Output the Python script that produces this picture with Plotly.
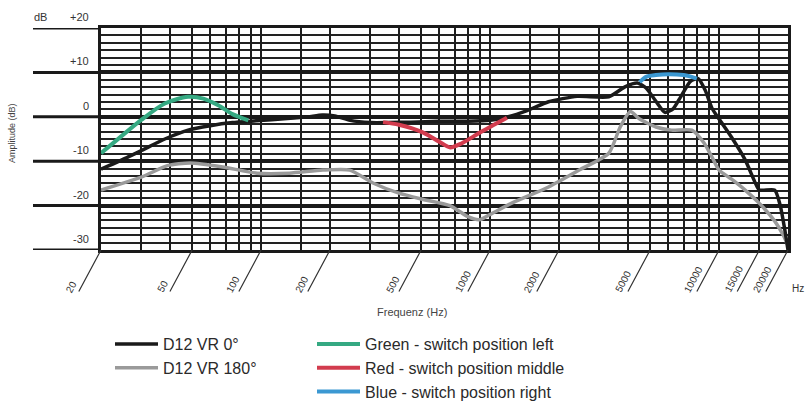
import numpy as np
import plotly.graph_objects as go

# ---------------- data ----------------
f_0deg = [20, 24, 30, 38, 48, 60, 75, 95, 130, 160, 185, 210, 245, 300, 360, 450, 600, 800,
          1000, 1200, 1450, 1800, 2400, 3300, 3900, 4400, 4800, 5300, 5800, 6300, 6800, 7500,
          8100, 8700, 9300, 10000, 11300, 13000, 14400, 15000, 17500, 18500, 19300, 20000]
db_0deg = [-11.8, -10.0, -7.6, -5.0, -3.0, -2.0, -1.3, -0.9, -0.4, 0.0, 0.4, 0.2, -0.8, -1.3, -1.3,
           -1.2, -1.0, -1.0, -0.8, 0.0, 1.4, 3.4, 4.6, 4.5, 6.8, 7.6, 6.5, 3.5, 1.0, 1.8, 4.5, 8.0,
           8.6, 6.0, 2.0, -0.5, -4.5, -9.7, -14.9, -16.5, -16.5, -20.0, -25.0, -30.0]

f_180deg = [20, 30, 39, 49, 68, 96, 133, 186, 244, 308, 400, 500, 668, 800, 900, 1000, 1250,
            1800, 2450, 3300, 3700, 4100, 4500, 5300, 6200, 7600, 8600, 9300, 10000, 11300,
            13000, 15000, 17500, 19000, 20000]
db_180deg = [-16.5, -13.6, -11.0, -10.4, -11.3, -12.7, -12.7, -12.0, -12.0, -14.9, -17.2, -18.5,
             -20.0, -22.5, -23.2, -22.0, -19.4, -15.8, -12.0, -8.2, -2.3, 1.2, -0.5, -2.3, -3.0,
             -3.0, -5.9, -9.0, -12.0, -14.0, -16.5, -19.5, -23.5, -26.5, -29.0]

f_green = [20, 24, 30, 38, 48, 56, 65, 75, 88]
db_green = [-8.2, -4.8, -0.7, 3.0, 4.5, 4.1, 2.6, 0.6, -0.8]

f_red = [341, 400, 508, 600, 670, 750, 900, 1050, 1185]
db_red = [-1.2, -1.8, -3.5, -5.6, -6.9, -6.0, -3.6, -1.7, -0.2]

f_blue = [4500, 4800, 5300, 6000, 7000, 7600, 8000]
db_blue = [7.8, 9.0, 9.4, 9.6, 9.4, 9.0, 8.6]

x_labels = [20, 50, 100, 200, 500, 1000, 2000, 5000, 10000, 15000, 20000]
x_grid = ([20, 30, 40, 50, 60, 70, 80, 90, 100, 150, 200, 300, 400, 500, 600, 700, 800, 900,
           1000, 1500, 2000, 3000, 4000, 5000, 6000, 7000, 8000, 9000, 10000, 15000, 20000])
y_major = [-30, -20, -10, 0, 10, 20]
y_labels = ["-30", "-20", "-10", "0", "+10", "+20"]

# ---------------- figure ----------------
FONT = "Arial, Liberation Sans, sans-serif"
W, H = 806, 407
ML, MR, MT, MB = 101, 18, 28, 157
PW = W - ML - MR
PH = H - MT - MB

fig = go.Figure()
fig.add_trace(go.Scatter(x=f_180deg, y=db_180deg, mode="lines", name="D12 VR 180°",
                         line=dict(color="#9a9a9a", width=3.5, shape="spline", smoothing=0.6),
                         legend="legend"))
fig.add_trace(go.Scatter(x=f_0deg, y=db_0deg, mode="lines", name="D12 VR 0°",
                         line=dict(color="#1a1a1a", width=3.5, shape="spline", smoothing=0.6),
                         legend="legend", legendrank=1))
fig.add_trace(go.Scatter(x=f_green, y=db_green, mode="lines", name="Green - switch position left",
                         line=dict(color="#35a982", width=4, shape="spline", smoothing=0.8),
                         legend="legend2"))
fig.add_trace(go.Scatter(x=f_red, y=db_red, mode="lines", name="Red - switch position middle",
                         line=dict(color="#d23c4e", width=4, shape="spline", smoothing=0.8),
                         legend="legend2"))
fig.add_trace(go.Scatter(x=f_blue, y=db_blue, mode="lines", name="Blue - switch position right",
                         line=dict(color="#3b98d2", width=4, shape="spline", smoothing=0.8),
                         legend="legend2"))

shapes = []
annotations = []
px2paper_x = lambda px: (px - ML) / PW
px2paper_y = lambda py: (H - MB - py) / PH

# extended thick horizontal lines to the left of the plot
for v in y_major:
    shapes.append(dict(type="line", xref="paper", yref="y", x0=px2paper_x(33), x1=0,
                       y0=v, y1=v, line=dict(color="#1a1a1a", width=3)))
# y labels
for v, t in zip(y_major, y_labels):
    annotations.append(dict(text=t, xref="paper", yref="y", x=px2paper_x(91), y=v,
                            xanchor="right", yanchor="middle", yshift=11, showarrow=False,
                            font=dict(family=FONT, size=11, color="#333")))
annotations.append(dict(text="dB", xref="paper", yref="y", x=px2paper_x(32), y=20,
                        xanchor="left", yanchor="middle", yshift=11, showarrow=False,
                        font=dict(family=FONT, size=11, color="#333")))
# x tick labels with slanted leaders
for fv in x_labels:
    annotations.append(dict(text="", xref="x", yref="y", x=np.log10(fv), y=-30,
                            showarrow=True, arrowhead=0, arrowwidth=1.2, arrowcolor="#333",
                            ax=-23, ay=43, standoff=0, startstandoff=0))
    annotations.append(dict(text=f"{fv}", xref="x", yref="y", x=np.log10(fv), y=-30,
                            xanchor="left", yanchor="bottom", xshift=-40, yshift=-47,
                            textangle=-62, showarrow=False,
                            font=dict(family=FONT, size=10, color="#333")))
annotations.append(dict(text="Hz", xref="paper", yref="paper", x=px2paper_x(790), y=px2paper_y(288),
                        xanchor="left", yanchor="middle", showarrow=False,
                        font=dict(family=FONT, size=10, color="#333")))
annotations.append(dict(text="Frequenz (Hz)", xref="paper", yref="paper", x=px2paper_x(412),
                        y=px2paper_y(312), xanchor="center", yanchor="middle", showarrow=False,
                        font=dict(family=FONT, size=11, color="#444")))
annotations.append(dict(text="Amplitude (dB)", xref="paper", yref="paper", x=px2paper_x(12),
                        y=px2paper_y(133), xanchor="center", yanchor="middle", textangle=-90,
                        showarrow=False, font=dict(family=FONT, size=9, color="#444")))

fig.update_layout(
    width=W, height=H, margin=dict(l=ML, r=MR, t=MT, b=MB, autoexpand=False),
    paper_bgcolor="white", plot_bgcolor="white",
    showlegend=True,
    legend=dict(x=px2paper_x(110), y=px2paper_y(327), xanchor="left", yanchor="top",
                font=dict(family=FONT, size=16, color="#2a2a2a"), bgcolor="rgba(0,0,0,0)",
                tracegroupgap=0, itemwidth=43),
    legend2=dict(x=px2paper_x(312), y=px2paper_y(327), xanchor="left", yanchor="top",
                 font=dict(family=FONT, size=16, color="#2a2a2a"), bgcolor="rgba(0,0,0,0)",
                 tracegroupgap=0, itemwidth=43),
    shapes=shapes, annotations=annotations,
)
fig.update_xaxes(type="log", range=[np.log10(20), np.log10(20000)], tickmode="array",
                 tickvals=x_grid, showticklabels=False, ticks="", showgrid=True,
                 gridcolor="#1e1e1e", gridwidth=2, showline=True, linecolor="#1a1a1a",
                 linewidth=3, mirror=True, zeroline=False, fixedrange=True)
fig.update_yaxes(range=[-30, 20], tickmode="array", tickvals=y_major, showticklabels=False,
                 ticks="", showgrid=True, gridcolor="#1a1a1a", gridwidth=3.5, zeroline=False,
                 showline=True, linecolor="#1a1a1a", linewidth=3, mirror=True,
                 minor=dict(tick0=-30, dtick=10 / 6, showgrid=True, gridcolor="#222",
                            gridwidth=1.8, ticks=""), fixedrange=True)

fig.write_html("out.html")
